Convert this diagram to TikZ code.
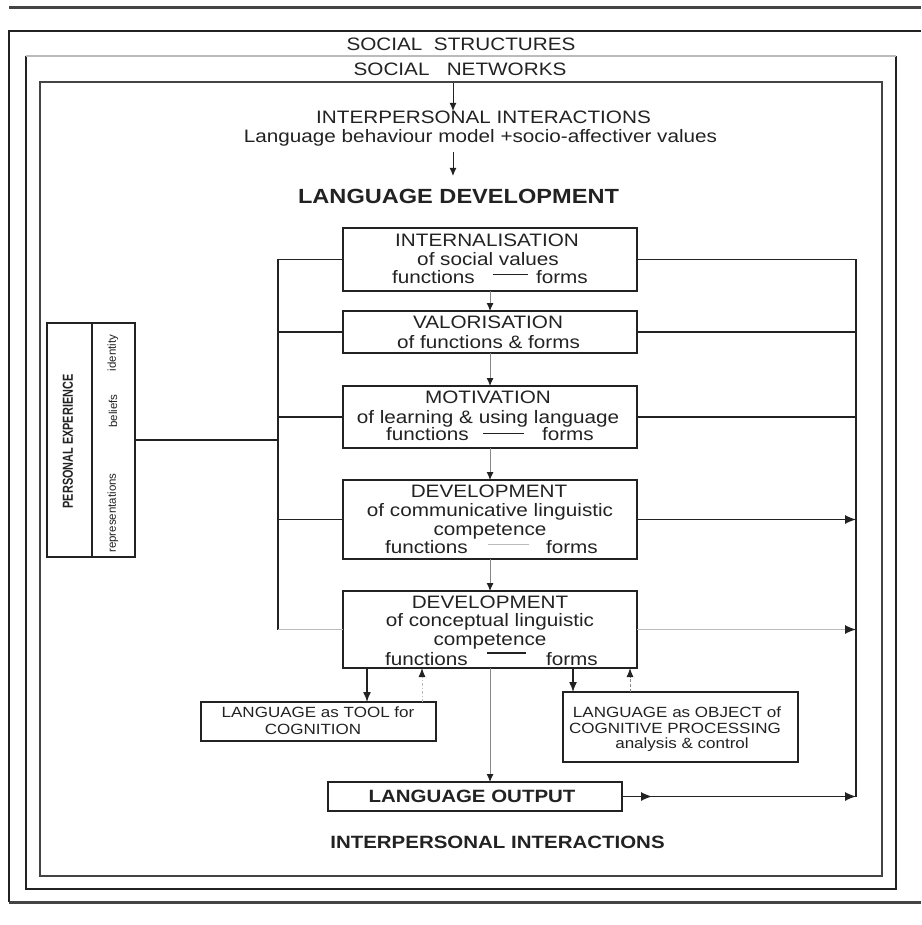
\documentclass[tikz,border=0pt]{standalone}
\usepackage{fontspec}
\setmainfont{Liberation Sans}
\newfontfamily\wf{Liberation Sans}[FakeStretch=1.15]
\newfontfamily\nf{Liberation Sans}[FakeStretch=0.75]
\newfontfamily\pf{Liberation Sans}
\usetikzlibrary{arrows.meta,calc}
\definecolor{ink}{HTML}{222222}
\definecolor{lgray}{HTML}{888888}
\definecolor{vlgray}{HTML}{BBBBBB}
\definecolor{framec}{HTML}{444444}
\begin{document}
\begin{tikzpicture}[x=1pt,y=-1pt,
  box/.style={draw=ink,line width=1.3pt,inner sep=0pt,outer sep=0pt},
  txt/.style={inner sep=0pt,outer sep=0pt,anchor=base,text=ink,font=\wf\fontsize{18}{20}\selectfont},
  btxt/.style={txt,font=\wf\bfseries\fontsize{17.8}{20}\selectfont},
  stxt/.style={txt,font=\wf\fontsize{14.8}{16}\selectfont},
  rtxt/.style={inner sep=0pt,outer sep=0pt,rotate=90,text=ink,font=\pf\fontsize{11.5}{13}\selectfont},
  bus/.style={draw=ink,line width=1.2pt},
  gbus/.style={draw=vlgray,line width=1.2pt},
  bigtip/.style={-{Latex[length=11pt,width=9pt,color=ink]}},
  flow/.style={draw=lgray,line width=0.9pt,-{Latex[length=8pt,width=7pt,color=ink]}},
  topflow/.style={draw=ink,line width=1pt,-{Latex[length=8pt,width=7pt,color=ink]}},
  upflow/.style={draw=vlgray,line width=1pt,dash pattern=on 3pt off 2pt on 1pt off 2pt,-{Latex[length=9pt,width=7pt,color=ink]}},
  upflowd/.style={draw=lgray,line width=1pt,dash pattern=on 3pt off 2pt,-{Latex[length=9pt,width=7pt,color=ink]}},
  downflow/.style={draw=ink,line width=1.4pt,-{Latex[length=10pt,width=8pt,color=ink]}},
  pair/.style={line width=0.9pt,draw=ink}
]
\useasboundingbox (0,0) rectangle (921,925);

% frames
\draw[line width=3pt,draw=framec] (9,8) -- (921,8);
\draw[line width=3pt,draw=framec] (9,902) -- (921,902);
\draw[line width=1.2pt,draw=ink] (921,31) -- (9,31) -- (9,902);
\draw[line width=1.2pt,draw=ink] (26,56) -- (26,889) -- (896,889) -- (896,56);
\draw[line width=1.2pt,draw=vlgray] (26,56) -- (896,56);
\draw[line width=1.8pt,draw=framec] (40,82) rectangle (882,876);

% top texts
\node[txt] (soc) at (461,51) {SOCIAL\ \ STRUCTURES};
\node[txt] (net) at (460,76) {SOCIAL\ \ \ NETWORKS};
\node[txt] (ipi) at (483.5,124) {INTERPERSONAL INTERACTIONS};
\node[txt] (lbm) at (480.5,143) {Language behaviour model +socio-affectiver values};
\node[txt,font=\wf\bfseries\fontsize{20.5}{22}\selectfont] (ldev) at (458.5,204) {LANGUAGE DEVELOPMENT};
\coordinate (a1s) at (453,83);
\coordinate (a1e) at (453,111);
\coordinate (a2s) at (453,152);
\coordinate (a2e) at (453,176);
\draw[topflow] (a1s) -- (a1e);
\draw[topflow] (a2s) -- (a2e);

% main boxes
\node[box,minimum width=294pt,minimum height=63pt] (int) at (490,259.5) {};
\node[box,minimum width=294pt,minimum height=42pt] (val) at (490,332) {};
\node[box,minimum width=294pt,minimum height=62pt] (mot) at (490,417) {};
\node[box,minimum width=294pt,minimum height=79pt] (dev1) at (490,519.5) {};
\node[box,minimum width=294pt,minimum height=77pt] (dev2) at (490,629.5) {};
\node[box,minimum width=235pt,minimum height=39pt] (tool) at (318.5,721.5) {};
\node[box,minimum width=235pt,minimum height=70pt] (obj) at (680.5,727) {};
\node[box,minimum width=294pt,minimum height=29pt] (out) at (475,796.5) {};
\node[box,minimum width=88pt,minimum height=234pt] (pers) at (91,440) {};
\draw[line width=1.3pt,draw=ink] (92,323) -- (92,557);

% personal experience texts
\node[rtxt,font=\nf\bfseries\fontsize{14.5}{16}\selectfont] (pe) at (68,441.5) {PERSONAL EXPERIENCE};
\node[rtxt] (pid) at (113,353) {identity};
\node[rtxt] (pbe) at (113,411) {beliefs};
\node[rtxt] (pre) at (113,513) {representations};

% INTERNALISATION
\node[txt] (int1) at (487,247) {INTERNALISATION};
\node[txt] (int2) at (488,265) {of social values};
\node[txt,anchor=base west] (int3a) at (392,283) {functions};
\node[txt,anchor=base west] (int3b) at (536,283) {forms};
\draw[pair] (493,274) -- (528,274);

% VALORISATION
\node[txt] (val1) at (488,328) {VALORISATION};
\node[txt] (val2) at (488.5,348) {of functions \& forms};

% MOTIVATION
\node[txt] (mot1) at (488,403) {MOTIVATION};
\node[txt] (mot2) at (488,423) {of learning \& using language};
\node[txt,anchor=base west] (mot3a) at (386,440) {functions};
\node[txt,anchor=base west] (mot3b) at (542,440) {forms};
\draw[pair] (483,433) -- (524,433);

% DEVELOPMENT 1
\node[txt] (d1a) at (489,497) {DEVELOPMENT};
\node[txt] (d1b) at (490,516) {of communicative linguistic};
\node[txt] (d1c) at (490,535) {competence};
\node[txt,anchor=base west] (d1da) at (385,553) {functions};
\node[txt,anchor=base west] (d1db) at (546,553) {forms};
\draw[pair,draw=vlgray] (488,544) -- (529,544);

% DEVELOPMENT 2
\node[txt] (d2a) at (490,608) {DEVELOPMENT};
\node[txt] (d2b) at (490,626) {of conceptual linguistic};
\node[txt] (d2c) at (490,645) {competence};
\node[txt,anchor=base west] (d2da) at (385,665) {functions};
\node[txt,anchor=base west] (d2db) at (546,665) {forms};
\draw[pair,line width=1.5pt] (487,653) -- (526,653);

% bottom boxes
\node[stxt] (tool1) at (318,717) {LANGUAGE as TOOL for};
\node[stxt] (tool2) at (313,734) {COGNITION};
\node[stxt] (obj1) at (677,717) {LANGUAGE as OBJECT of};
\node[stxt,anchor=base west] (obj2) at (569,733) {COGNITIVE PROCESSING};
\node[stxt] (obj3) at (682,748) {analysis \& control};
\node[btxt] (out1) at (472,802) {LANGUAGE OUTPUT};
\node[btxt] (ipi2) at (497.5,848) {INTERPERSONAL INTERACTIONS};

% vertical flow
\draw[flow] (int.south) -- (val.north);
\draw[flow] (val.south) -- (mot.north);
\draw[flow] (mot.south) -- (dev1.north);
\draw[flow] (dev1.south) -- (dev2.north);
\draw[flow] (dev2.south) -- (dev2.south |- out.north);

% tool / object links
\coordinate (dA) at ($(dev2.south west)+(24,0)$);
\coordinate (dB) at ($(dev2.south west)+(79,0)$);
\coordinate (dC) at ($(dev2.south west)+(230,0)$);
\coordinate (dD) at ($(dev2.south west)+(287,0)$);
\draw[downflow] (dA) -- (dA |- tool.north);
\draw[upflow] (dB |- tool.north) -- (dB);
\draw[downflow] (dC) -- (dC |- obj.north);
\draw[upflowd] (dD |- obj.north) -- (dD);

% left bus
\coordinate (lbT) at (278,259.5);
\coordinate (lbB) at (278,629.5);
\draw[bus] (int.west) -- (lbT) -- (lbB);
\draw[gbus] (lbB) -- (dev2.west);
\draw[bus] (val.west) -- (val.west -| lbT);
\draw[bus] (mot.west) -- (mot.west -| lbT);
\draw[bus] (dev1.west) -- (dev1.west -| lbT);
\draw[bus] (pers.east) -- (pers.east -| lbT);

% right bus
\coordinate (rbT) at (856,259.5);
\coordinate (rbB) at (856,796.5);
\draw[bus] (int.east) -- (rbT) -- (rbB);
\draw[bus] (val.east) -- (val.east -| rbT);
\draw[bus] (mot.east) -- (mot.east -| rbT);
\draw[bus,bigtip] (dev1.east) -- (dev1.east -| rbT);
\draw[gbus,bigtip] (dev2.east) -- (dev2.east -| rbT);
\draw[bus,bigtip] (out.east) -- (rbB);
\draw[bus,bigtip] (out.east) -- ++(30,0);
\end{tikzpicture}
\end{document}
